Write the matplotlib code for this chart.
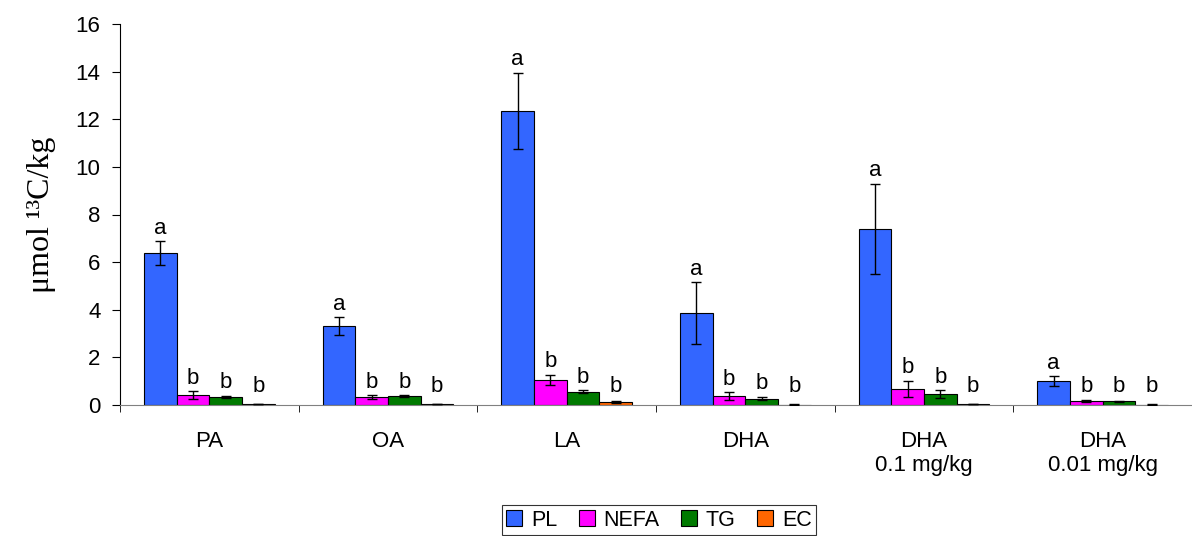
import numpy as np
import matplotlib
matplotlib.use("Agg")
import matplotlib.pyplot as plt

groups = ["PA", "OA", "LA", "DHA", "DHA\n0.1 mg/kg", "DHA\n0.01 mg/kg"]
series = ["PL", "NEFA", "TG", "EC"]
colors = ["#3366FF", "#FF00FF", "#007A00", "#FF6600"]

pl = [6.39, 3.32, 12.35, 3.87, 7.39, 1.00]
pl_err = [0.50, 0.37, 1.60, 1.30, 1.90, 0.22]
nefa = [0.42, 0.34, 1.05, 0.38, 0.67, 0.17]
nefa_err = [0.16, 0.08, 0.23, 0.15, 0.35, 0.03]
tg = [0.34, 0.38, 0.55, 0.27, 0.46, 0.15]
tg_err = [0.05, 0.03, 0.06, 0.08, 0.17, 0.03]
ec = [0.05, 0.05, 0.13, 0.02, 0.05, 0.02]
ec_err = [0.01, 0.01, 0.03, 0.02, 0.01, 0.01]
letters = ["a", "b", "b", "b"]

vals = [pl, nefa, tg, ec]
errs = [pl_err, nefa_err, tg_err, ec_err]

plt.rcParams['font.family'] = ['Liberation Sans', 'DejaVu Sans']

fig = plt.figure(figsize=(11.92, 5.36), dpi=100)
ax = fig.add_axes([120 / 1192, 1 - 405 / 536, 1072 / 1192, 381 / 536])

x = np.arange(len(groups))
w = 0.183
for i, (name, v, e, c) in enumerate(zip(series, vals, errs, colors)):
    pos = x + (i - 1.5) * w
    ax.bar(pos, v, w, color=c, edgecolor="black", linewidth=0.8, label=name, zorder=2)
    ax.errorbar(pos, v, yerr=e, fmt="none", ecolor="black", elinewidth=1,
                capsize=3.5, capthick=1, zorder=3)
    for xp, vv, ee in zip(pos, v, e):
        ytxt = max(vv + ee, 0.25) + 0.1
        ax.text(xp, ytxt, letters[i], ha="center", va="bottom", fontsize=16)

ax.set_xlim(-0.5, 5.45)
ax.set_ylim(0, 16)
ax.set_yticks(np.arange(0, 17, 2))
ax.tick_params(axis="y", labelsize=16, direction="out", length=6, pad=8)
ax.set_xticks(x)
ax.set_xticklabels(groups, fontsize=16, linespacing=1.15)
ax.tick_params(axis="x", length=0, pad=19)
ax.set_xticks(np.arange(-0.5, 6, 1), minor=True)
ax.tick_params(axis="x", which="minor", length=5, direction="out")
for s in ["top", "right"]:
    ax.spines[s].set_visible(False)
ax.spines["bottom"].set_color("#808080")

ax.set_ylabel("μmol ¹³C/kg", fontsize=23, family=["Liberation Serif", "DejaVu Serif"], labelpad=14)

leg = fig.legend(loc="center", bbox_to_anchor=(659 / 1192, 1 - 520 / 536), ncol=4,
                 frameon=True, fancybox=False, fontsize=15.5, handlelength=0.75,
                 handleheight=0.75, handletextpad=0.4, columnspacing=1.0,
                 borderpad=0.2, borderaxespad=0.2, edgecolor="black")
leg.get_frame().set_linewidth(0.8)

fig.savefig("out.png", dpi=100)
